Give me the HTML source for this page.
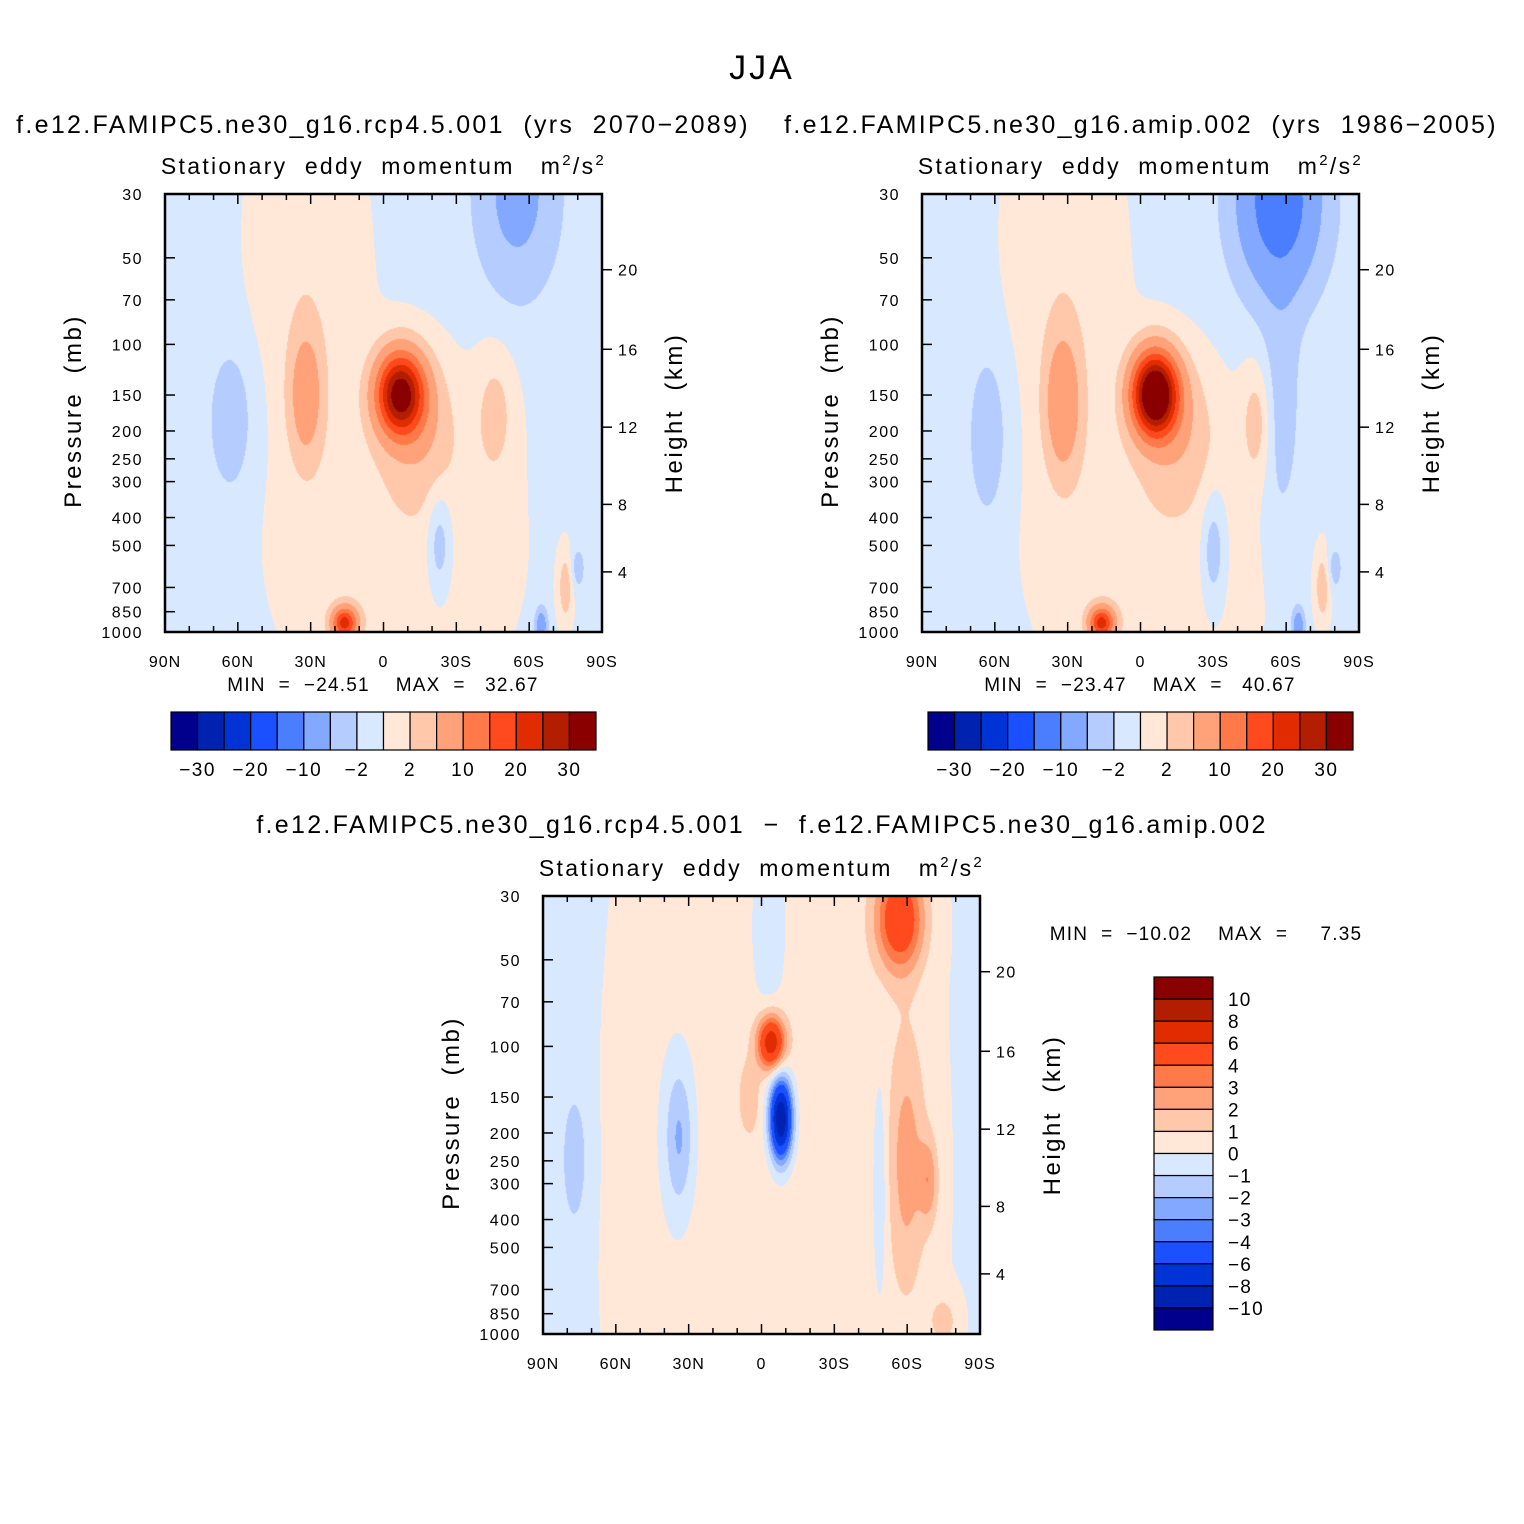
<!DOCTYPE html>
<html><head><meta charset="utf-8">
<style>
body{margin:0;background:#fff;}
#root{position:relative;width:1524px;height:1524px;overflow:hidden;font-family:"Liberation Sans",sans-serif;}
canvas{position:absolute;}
svg{position:absolute;left:0;top:0;}
text{white-space:pre;}
</style></head>
<body>
<div id="root">
<canvas id="c1" width="437" height="438" style="left:165px;top:194px"></canvas>
<canvas id="c2" width="437" height="438" style="left:922px;top:194px"></canvas>
<canvas id="c3" width="437" height="438" style="left:543px;top:896px"></canvas>
<svg id="ov" width="1524" height="1524"></svg>
</div>
<script>
// ---- data ----
const colors = ["#00008c","#0022b0","#0033d6","#1a50ff","#4a7eff","#82a8ff","#b4ccff","#d8e8ff","#ffe8d8","#ffc8aa","#ffa279","#ff7a48","#ff4a1e","#e02c00","#b41e00","#8a0000"];
const levelsFull = [-30,-25,-20,-15,-10,-5,-2,0,2,5,10,15,20,25,30];
const levelsDiff = [-10,-8,-6,-4,-3,-2,-1,0,1,2,3,4,6,8,10];
const fullTickLabels = ["−30","−20","−10","−2","2","10","20","30"];
const diffTickLabels = ["10","8","6","4","3","2","1","0","−1","−2","−3","−4","−6","−8","−10"];
const pressureTicks = [30,50,70,100,150,200,250,300,400,500,700,850,1000];
const heightTicks = [4,8,12,16,20];
const heightPress = [618,360,194,104,55];
const latTicks = [90,60,30,0,-30,-60,-90];
const latLabels = ["90N","60N","30N","0","30S","60S","90S"];

// panel 1 (rcp4.5) blobs
const p1Base = -0.6;
const p1Lat = [-5, 32, -7, -15, 32, 63, -55, -23, 16, -46, -75, -65, -80];
const p1Lev = [500, 40, 149, 200, 150, 185, 30, 495, 930, 173, 700, 950, 600];
const p1Amp = [2.0, 2.0, 33, 4, 8, -4, -6, -4, 22, 3, 4, -8, -3];
const p1WLat = [50, 24, 9.5, 14, 7, 8, 16, 5, 5, 8, 3, 2.5, 3];
const p1WLev = [0.4, 0.35, 0.09, 0.15, 0.15, 0.15, 0.22, 0.12, 0.035, 0.15, 0.08, 0.04, 0.05];
// panel 2 (amip)
const p2Base = -0.6;
const p2Lat = [-5, 32, -6, -15, 32, 63, -57, -58, -30, 16, -48, -75, -65, -80];
const p2Lev = [500, 40, 149, 200, 160, 210, 32, 170, 520, 930, 185, 700, 950, 600];
const p2Amp = [2.0, 2.0, 41, 4, 9, -4, -13, -3, -4, 22, 3.5, 4, -8, -3];
const p2WLat = [50, 24, 9, 14, 7.5, 7, 17, 8, 5, 5, 6, 3, 2.5, 3];
const p2WLev = [0.4, 0.35, 0.09, 0.15, 0.16, 0.17, 0.2, 0.3, 0.13, 0.035, 0.13, 0.08, 0.04, 0.05];
// panel 3 (difference)
const p3Base = -0.5;
const p3Lat = [-5, -4, -8, -3, -57, -60, -69, 34, 77, -49, 5, -75];
const p3Lev = [300, 97, 179, 40, 36, 250, 293, 207, 247, 300, 150, 900];
const p3Amp = [1.1, 7, -10.5, -1.3, 5.5, 2.3, 2.2, -2.5, -1.8, -1.2, 1.2, 1.5];
const p3WLat = [82, 5.5, 4.5, 7, 10, 8, 4, 6, 5, 3, 4, 6];
const p3WLev = [2.0, 0.06, 0.09, 0.2, 0.12, 0.3, 0.1, 0.17, 0.15, 0.25, 0.08, 0.06];

// ---- axes helpers ----
const W = 437, H = 438;
const LN = Math.log(1000/30);
function zOf(p){ return Math.log(p/30)/LN; }
function xScale(lat){ return (90-lat)/180*W; }
function yScale(p){ return zOf(p)*H; }

function drawField(id, base, lat, lev, amp, wl, wz, levels){
  const c = document.getElementById(id), ctx = c.getContext('2d');
  const img = ctx.createImageData(W, H);
  const rgb = colors.map(h=>[parseInt(h.substr(1,2),16),parseInt(h.substr(3,2),16),parseInt(h.substr(5,2),16)]);
  const zc = lev.map(zOf);
  for(let j=0;j<H;j++){
    const z = (j+0.5)/H;
    for(let i=0;i<W;i++){
      const la = 90-(i+0.5)/W*180;
      let v = base;
      for(let k=0;k<lat.length;k++){
        const dx=(la-lat[k])/wl[k], dz=(z-zc[k])/wz[k];
        v += amp[k]*Math.exp(-(dx*dx+dz*dz));
      }
      let idx=0; while(idx<levels.length && v>=levels[idx]) idx++;
      const col = rgb[idx], o=(j*W+i)*4;
      img.data[o]=col[0];img.data[o+1]=col[1];img.data[o+2]=col[2];img.data[o+3]=255;
    }
  }
  ctx.putImageData(img,0,0);
}
drawField('c1',p1Base,p1Lat,p1Lev,p1Amp,p1WLat,p1WLev,levelsFull);
drawField('c2',p2Base,p2Lat,p2Lev,p2Amp,p2WLat,p2WLev,levelsFull);
drawField('c3',p3Base,p3Lat,p3Lev,p3Amp,p3WLat,p3WLev,levelsDiff);

const NS="http://www.w3.org/2000/svg";
const ov=document.getElementById('ov');
function el(tag,attrs,txt){
  const e=document.createElementNS(NS,tag);
  for(const k in attrs) e.setAttribute(k,attrs[k]);
  if(txt!==undefined) e.textContent=txt;
  ov.appendChild(e); return e;
}
function text(x,y,s,size,anchor,name,ls){
  const t=el('text',{x:x,y:y,'font-size':size,'text-anchor':anchor||'middle',fill:'#000','font-family':'Liberation Sans, sans-serif','letter-spacing':(ls||0)},s);
  
  
  return t;
}
function line(x1,y1,x2,y2,w,name){
  const l=el('line',{x1:x1,y1:y1,x2:x2,y2:y2,stroke:'#000','stroke-width':w||1.5});
  
  
  return l;
}

function axes(ox,oy,tag){
  const r=el('rect',{x:ox,y:oy,width:W,height:H,fill:'none',stroke:'#000','stroke-width':2.5});
  
  
  for(let lat=90;lat>=-90;lat-=10){
    const x=ox+xScale(lat), major=(lat%30===0);
    const L=major?10:6;
    line(x,oy+H,x,oy+H-L,1.5,tag+'-x-tick');
    line(x,oy,x,oy+L,1.5,tag+'-x-tick-top');
  }
  latTicks.forEach((lat,i)=>text(ox+xScale(lat),oy+H+35,latLabels[i],16,'middle',tag+'-x-tick-label',1));
  pressureTicks.forEach(p=>{
    const y=oy+yScale(p);
    line(ox,y,ox+10,y,1.5,tag+'-y-tick');
    text(ox-22,y+6,String(p),16,'end',tag+'-y-tick-label',1.5);
  });
  heightTicks.forEach((h,i)=>{
    const y=oy+yScale(heightPress[i]);
    line(ox+W,y,ox+W+10,y,1.5,tag+'-right-tick');
    text(ox+W+16,y+6,String(h),16,'start',tag+'-height-tick-label',1.5);
  });
  const yl=text(0,0,'Pressure  (mb)',24,'middle',tag+'-y-axis-title',2.5);
  yl.setAttribute('transform','translate('+(ox-84)+','+(oy+H/2-2)+') rotate(-90)');
  const hl=text(0,0,'Height  (km)',24,'middle',tag+'-right-axis-title',2.5);
  hl.setAttribute('transform','translate('+(ox+W+80)+','+(oy+H/2)+') rotate(-90)');
  const st=text(ox+W/2,oy-20,'',23,'middle',tag+'-subtitle',2.3);
  st.innerHTML='Stationary  eddy  momentum   m<tspan font-size="15" dy="-9">2</tspan><tspan dy="9">/s</tspan><tspan font-size="15" dy="-9">2</tspan>';
}
axes(165,194,'rcp');
axes(922,194,'amip');
axes(543,896,'diff');

text(762,79,'JJA',34,'middle','main-title',3);
text(383,133,'f.e12.FAMIPC5.ne30_g16.rcp4.5.001  (yrs  2070−2089)',25,'middle','rcp-panel-title',2.3);
text(1141,133,'f.e12.FAMIPC5.ne30_g16.amip.002  (yrs  1986−2005)',25,'middle','amip-panel-title',2.3);
text(762,833,'f.e12.FAMIPC5.ne30_g16.rcp4.5.001  −  f.e12.FAMIPC5.ne30_g16.amip.002',25,'middle','diff-panel-title',2.3);
text(383,691,'MIN  =  −24.51    MAX  =   32.67',19,'middle','rcp-min-max',1.2);
text(1140,691,'MIN  =  −23.47    MAX  =   40.67',19,'middle','amip-min-max',1.2);
text(1206,940,'MIN  =  −10.02    MAX  =     7.35',19,'middle','diff-min-max',1.2);

function hbar(x0,y0,tag){
  const bw=425/16;
  colors.forEach((c,i)=>{
    const r=el('rect',{x:x0+i*bw,y:y0,width:bw,height:38,fill:c,stroke:'#000','stroke-width':1.2});
    
    
  });
  fullTickLabels.forEach((s,k)=>text(x0+(2*k+1)*bw,y0+64,s,19,'middle',tag+'-colorbar-label',1.5));
}
hbar(171,712,'rcp');
hbar(928,712,'amip');
(function(){
  const x0=1154,y0=977,bh=353/16;
  colors.slice().reverse().forEach((c,i)=>{
    const r=el('rect',{x:x0,y:y0+i*bh,width:59,height:bh,fill:c,stroke:'#000','stroke-width':1.2});
    
    
  });
  diffTickLabels.forEach((s,k)=>text(x0+74,y0+(k+1)*bh+7,s,19,'start','diff-colorbar-label',1.2));
})();
</script>
</body></html>
